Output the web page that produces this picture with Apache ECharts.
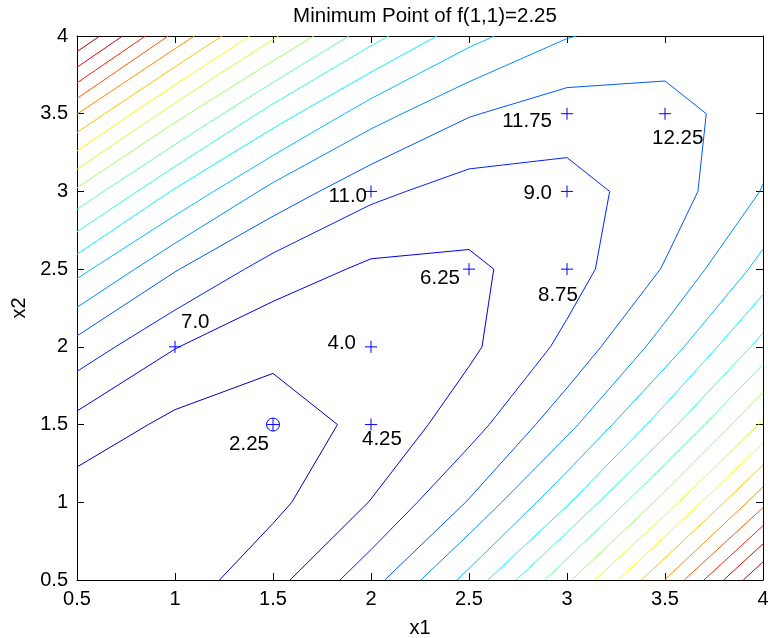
<!DOCTYPE html>
<html>
<head>
<meta charset="utf-8">
<script src="https://cdn.jsdelivr.net/npm/echarts@6/dist/echarts.min.js"></script>
<style>
html, body { margin: 0; padding: 0; background: #fff; }
#main { width: 768px; height: 638px; }
</style>
</head>
<body>
<div id="main"></div>
<script>
// grid of the function, read from the labelled points
var x1Values = [0.5, 1, 1.5, 2, 2.5, 3, 3.5, 4];
var x2Values = [0.5, 1, 1.5, 2, 2.5, 3, 3.5, 4];
// one row per x2 value, bottom row first
var zRows = [
	[0.25, 1.75, 5.75, 12.25, 21.25, 32.75, 46.75, 63.25],
	[1.75, 1, 2.75, 7, 13.75, 23, 34.75, 49],
	[5.75, 2.75, 2.25, 4.25, 8.75, 15.75, 25.25, 37.25],
	[12.25, 7, 4.25, 4, 6.25, 11, 18.25, 28],
	[21.25, 13.75, 8.75, 6.25, 6.25, 8.75, 13.75, 21.25],
	[32.75, 23, 15.75, 11, 8.75, 9, 11.75, 17],
	[46.75, 34.75, 25.25, 18.25, 13.75, 11.75, 12.25, 15.25],
	[63.25, 49, 37.25, 28, 21.25, 17, 15.25, 16]
];
var levelCount = 18;

// marked points and their text
var markX1 = [1, 2, 1.5, 2, 2, 2.5, 3, 3.5, 3, 3];
var markX2 = [2, 2, 1.5, 1.5, 3, 2.5, 3.5, 3.5, 3, 2.5];
var markText = ['7.0', '4.0', '2.25', '4.25', '11.0', '6.25', '11.75', '12.25', '9.0', '8.75'];
var minIndex = 2;

// text placement next to each mark: [align, dx, dy]
var textPlace = [
	['left', 6, -25],
	['right', -15, -4],
	['center', -24, 20],
	['left', -9, 15],
	['right', -4, 5],
	['right', -9, 9],
	['right', -15, 8],
	['left', -13, 25],
	['right', -15, 2],
	['left', -29, 26]
];

function jet(t) {
	function c(v) { return Math.round(255 * Math.max(0, Math.min(1, v))); }
	var r = c(1.5 - Math.abs(4 * t - 3));
	var g = c(1.5 - Math.abs(4 * t - 2));
	var b = c(1.5 - Math.abs(4 * t - 1));
	return 'rgb(' + r + ',' + g + ',' + b + ')';
}

// marching squares on the grid, straight segments inside each cell
function contourSegments(level) {
	var segs = [];
	function cross(xa, ya, za, xb, yb, zb) {
		var f = (level - za) / (zb - za);
		return [xa + f * (xb - xa), ya + f * (yb - ya)];
	}
	for (var j = 0; j < x2Values.length - 1; j++) {
		for (var i = 0; i < x1Values.length - 1; i++) {
			var xa = x1Values[i], xb = x1Values[i + 1];
			var ya = x2Values[j], yb = x2Values[j + 1];
			var za = zRows[j][i], zb = zRows[j][i + 1], zc = zRows[j + 1][i + 1], zd = zRows[j + 1][i];
			var pts = {};
			if ((za < level) != (zb < level)) pts.ab = cross(xa, ya, za, xb, ya, zb);
			if ((zb < level) != (zc < level)) pts.bc = cross(xb, ya, zb, xb, yb, zc);
			if ((zc < level) != (zd < level)) pts.cd = cross(xb, yb, zc, xa, yb, zd);
			if ((zd < level) != (za < level)) pts.da = cross(xa, yb, zd, xa, ya, za);
			var keys = Object.keys(pts);
			if (keys.length == 2) {
				segs.push([pts[keys[0]], pts[keys[1]]]);
			} else if (keys.length == 4) {
				var mid = (za + zb + zc + zd) / 4;
				if ((mid < level) == (za < level)) {
					segs.push([pts.ab, pts.bc]);
					segs.push([pts.cd, pts.da]);
				} else {
					segs.push([pts.ab, pts.da]);
					segs.push([pts.bc, pts.cd]);
				}
			}
		}
	}
	return segs;
}

var zMin = Infinity, zMax = -Infinity;
zRows.forEach(function (row) {
	row.forEach(function (v) {
		zMin = Math.min(zMin, v);
		zMax = Math.max(zMax, v);
	});
});

var series = [];
for (var k = 1; k <= levelCount; k++) {
	var level = zMin + k * (zMax - zMin) / (levelCount + 1);
	series.push({
		type: 'lines',
		coordinateSystem: 'cartesian2d',
		silent: true,
		lineStyle: { color: jet((level - zMin) / (zMax - zMin)), width: 1, opacity: 1 },
		data: contourSegments(level).map(function (s) { return { coords: s }; })
	});
}

var font = 'Liberation Sans, Arial, sans-serif';
var plusPath = 'path://M0,-1L0,1M-1,0L1,0';
var circlePlusPath = 'path://M-1,0A1,1,0,1,1,1,0A1,1,0,1,1,-1,0ZM-1,0L1,0M0,-1L0,1';

// the marks
series.push({
	type: 'scatter',
	silent: true,
	z: 5,
	itemStyle: { color: 'rgba(0,0,0,0)', borderColor: '#0000ff', borderWidth: 1, opacity: 1 },
	data: markX1.map(function (x, i) {
		return {
			value: [x, markX2[i]],
			symbol: i == minIndex ? circlePlusPath : plusPath,
			symbolSize: i == minIndex ? 13 : 12
		};
	})
});

// the texts
series.push({
	type: 'scatter',
	silent: true,
	z: 6,
	symbol: 'circle',
	symbolSize: 0,
	itemStyle: { opacity: 1 },
	data: markX1.map(function (x, i) {
		var p = textPlace[i];
		return {
			value: [x, markX2[i]],
			label: {
				show: true,
				formatter: markText[i],
				position: 'inside',
				align: p[0],
				verticalAlign: 'middle',
				offset: [p[1], p[2]],
				color: '#000',
				fontSize: 20.5,
				fontFamily: font
			}
		};
	})
});

function axisBase(extra) {
	var a = {
		type: 'value',
		min: 0.5,
		max: 4,
		interval: 0.5,
		splitLine: { show: false },
		axisLine: { show: true, onZero: false, lineStyle: { color: '#000', width: 1 } },
		axisTick: { show: true, inside: true, length: 7, lineStyle: { color: '#000' } },
		axisLabel: { show: true, color: '#000', fontSize: 20, fontFamily: font, margin: 9 },
		nameTextStyle: { color: '#000', fontSize: 20, fontFamily: font }
	};
	for (var key in extra) a[key] = extra[key];
	return a;
}

var chart = echarts.init(document.getElementById('main'));
chart.setOption({
	animation: false,
	backgroundColor: '#fff',
	title: {
		text: 'Minimum Point of f(1,1)=2.25',
		left: 420,
		top: 1,
		textAlign: 'center',
		textStyle: { color: '#000', fontSize: 20.5, fontWeight: 'normal', fontFamily: font }
	},
	grid: { left: 77, top: 36, width: 686, height: 544, outerBoundsMode: 'none', containLabel: false },
	xAxis: [
		axisBase({ position: 'bottom', name: 'x1', nameLocation: 'middle', nameGap: 38 }),
		axisBase({ position: 'top', axisLabel: { show: false } })
	],
	yAxis: [
		axisBase({ position: 'left', name: 'x2', nameLocation: 'middle', nameGap: 48 }),
		axisBase({ position: 'right', axisLabel: { show: false } })
	],
	series: series
});
</script>
</body>
</html>
